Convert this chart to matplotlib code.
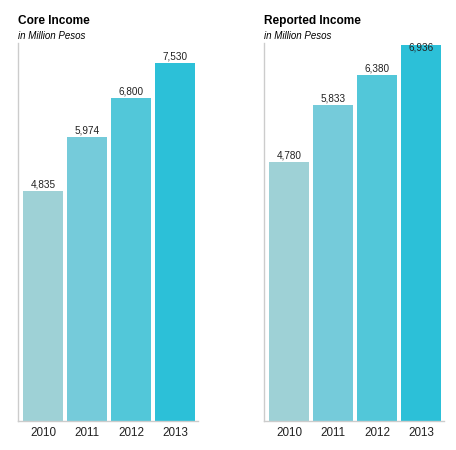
import matplotlib
matplotlib.use('Agg')
from matplotlib import pyplot as plt

years = ['2010', '2011', '2012', '2013']
core_income = [4835, 5974, 6800, 7530]
reported_income = [4780, 5833, 6380, 6936]
titles = ['Core Income', 'Reported Income']
subtitle = 'in Million Pesos'
colors = ['#9ed1d6', '#75cbda', '#52c7d9', '#2cc0d8']

plt.rcParams['font.family'] = ['Liberation Sans', 'DejaVu Sans']

px = 1 / 100
fig = plt.figure(figsize=(456 * px, 450 * px), dpi=100, facecolor='white')

panels = [
    (core_income, titles[0], 18, 7950),
    (reported_income, titles[1], 264, 6975),
]

for values, title, left, ymax in panels:
    ax = fig.add_axes([left / 456, 29 / 450, 180 / 456, 378 / 450])
    xs = range(len(values))
    ax.bar(xs, values, width=40 / 44, color=colors)
    ax.set_xlim(-25 / 44, 3 + 23 / 44)
    ax.set_ylim(0, ymax)
    ax.set_xticks(list(xs))
    ax.set_xticklabels(years, fontsize=8.4, color='#222222')
    ax.tick_params(axis='x', length=0, pad=4)
    ax.set_yticks([])
    for side in ['top', 'right']:
        ax.spines[side].set_visible(False)
    for side in ['left', 'bottom']:
        ax.spines[side].set_color('#cccccc')
        ax.spines[side].set_linewidth(1)
    for x, v in zip(xs, values):
        label = f'{v:,}'
        if v > ymax * 0.985:
            ax.text(x, ymax, label, ha='center', va='top', fontsize=7.2, color='#222222')
        else:
            ax.annotate(label, (x, v), xytext=(0, 1), textcoords='offset points',
                        ha='center', va='bottom', fontsize=7.2, color='#222222')
    fig.text(left / 456, 1 - 21 / 450, title, fontsize=8.6, fontweight='bold',
             ha='left', va='center', color='black')
    fig.text(left / 456, 1 - 36 / 450, subtitle, fontsize=7, fontstyle='italic',
             ha='left', va='center', color='black')

fig.savefig('out.png', dpi=100, facecolor='white')
